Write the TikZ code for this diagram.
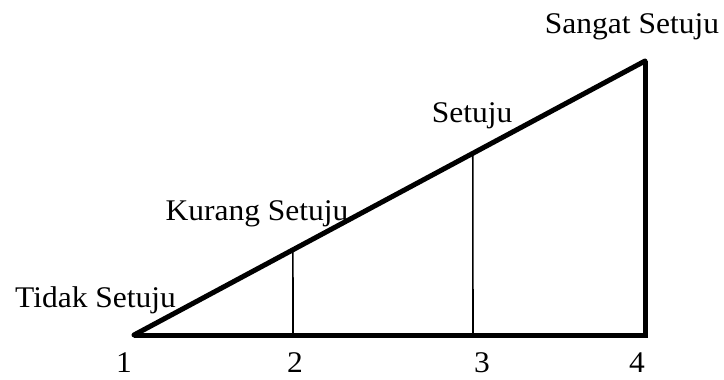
\documentclass[tikz,border=0pt]{standalone}
\usepackage{fontspec}
\setmainfont{Liberation Serif}[FakeStretch=1.05]
\usetikzlibrary{calc}
\begin{document}
\begin{tikzpicture}[x=1pt,y=-1pt,
  thickline/.style={line width=5pt,black},
  thinline/.style={line width=1.6pt,black},
  lbl/.style={anchor=base,inner sep=0pt,font=\fontsize{30}{32}\selectfont}]
\useasboundingbox (0,0) rectangle (724,380);
\coordinate (A) at (134,335);
\coordinate (B) at (645,335);
\coordinate (C) at (645,61);
\coordinate (P2) at (293,335);
\coordinate (Q2) at ($(A)!0.311!(C)$);
\coordinate (P3) at (473,335);
\coordinate (Q3) at ($(A)!0.663!(C)$);
\draw[thinline] (P2) -- (Q2);
\draw[thinline] (P3) -- (Q3);
\draw[thickline,line cap=round] (A) -- (C);
\draw[thickline,line join=miter] (C) -- (B) -- (A);
\node[lbl] (t1) at (95.5,307) {Tidak Setuju};
\node[lbl] (t2) at (257,220) {Kurang Setuju};
\node[lbl] (t3) at (472,122) {Setuju};
\node[lbl] (t4) at (632,33) {Sangat Setuju};
\node[lbl] (n1) at (124,372) {1};
\node[lbl] (n2) at (295,372) {2};
\node[lbl] (n3) at (482,372) {3};
\node[lbl] (n4) at (637,372) {4};
\end{tikzpicture}
\end{document}
